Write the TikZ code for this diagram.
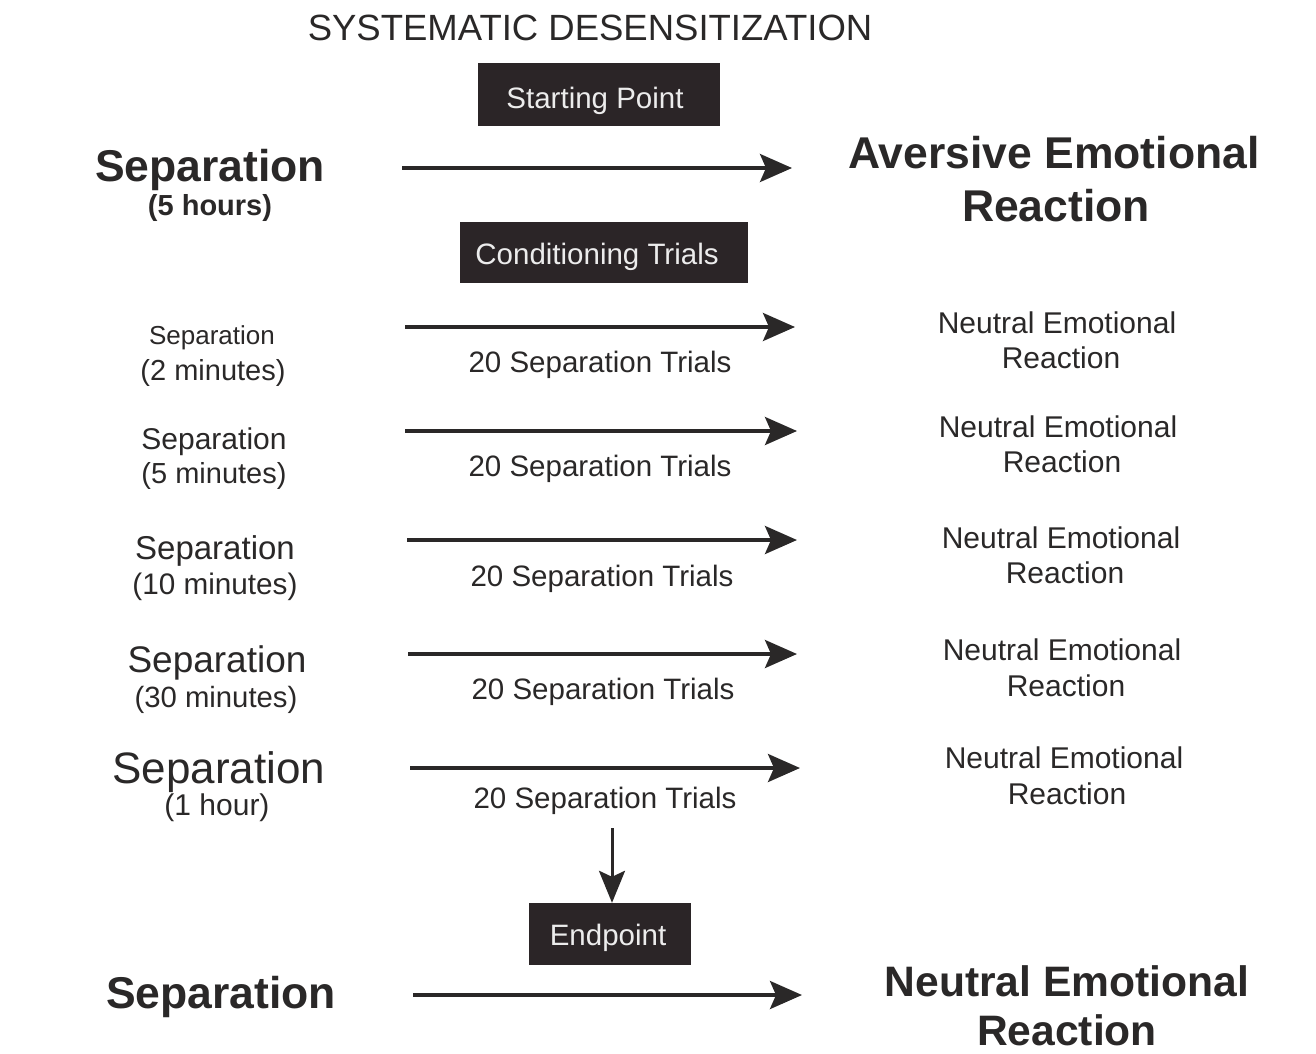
\documentclass[tikz,border=0pt]{standalone}
\usepackage{fontspec}
\setmainfont{Liberation Sans}
\usetikzlibrary{arrows.meta}
\definecolor{ink}{HTML}{2A2828}
\definecolor{boxc}{HTML}{2B2527}
\definecolor{boxtext}{HTML}{ECECEC}
\newcommand{\fs}[1]{\fontsize{#1}{#1}\selectfont}
\tikzset{
  lbl/.style={text=ink, inner sep=0pt, anchor=base},
  blk/.style={fill=boxc, inner sep=0pt, draw=none},
  flow/.style={draw=ink, line width=3.4pt, -{Stealth[length=32pt,width=28pt,inset=6pt]}},
  downflow/.style={draw=ink, line width=3pt, -{Stealth[length=32pt,width=26pt,inset=6pt]}},
}
\begin{document}
\begin{tikzpicture}[x=1pt,y=-1pt]
\useasboundingbox[fill=white] (0,0) rectangle (1316,1053);
% title
\node[lbl, font=\fs{36.5}] (title) at (590,40) {SYSTEMATIC DESENSITIZATION};
% boxes
\node[blk, minimum width=242pt, minimum height=63pt] (startbox) at (599,94.5) {};
\node[text=boxtext, inner sep=0pt, anchor=base, font=\fs{29.5}] (starttxt) at (595,108) {Starting Point};
\node[blk, minimum width=288pt, minimum height=61pt] (condbox) at (604,252.5) {};
\node[text=boxtext, inner sep=0pt, anchor=base, font=\fs{29.5}] (condtxt) at (597,264) {Conditioning Trials};
\node[blk, minimum width=162pt, minimum height=62pt] (endbox) at (610,934) {};
\node[text=boxtext, inner sep=0pt, anchor=base, font=\fs{29.5}] (endtxt) at (608,945) {Endpoint};
% row 1
\node[lbl, font=\bfseries\fs{44.5}] (s1) at (210,181) {Separation};
\node[lbl, font=\bfseries\fs{29}] (d1) at (210,215) {(5 hours)};
\node[lbl, font=\bfseries\fs{44.5}] (r1a) at (1054,168) {Aversive Emotional};
\node[lbl, font=\bfseries\fs{44.5}] (r1b) at (1056,221) {Reaction};
\coordinate (a1s) at (402,168); \coordinate (a1e) at (792,168);
% row 2
\node[lbl, font=\fs{26}] (s2) at (212,344) {Separation};
\node[lbl, font=\fs{29}] (d2) at (213,380) {(2 minutes)};
\node[lbl, font=\fs{29.5}] (t2) at (600,372) {20 Separation Trials};
\node[lbl, font=\fs{30}] (r2a) at (1057,333) {Neutral Emotional};
\node[lbl, font=\fs{30}] (r2b) at (1061,368) {Reaction};
\coordinate (a2s) at (405,327); \coordinate (a2e) at (795,327);
% row 3
\node[lbl, font=\fs{30}] (s3) at (214,449) {Separation};
\node[lbl, font=\fs{29}] (d3) at (214,483) {(5 minutes)};
\node[lbl, font=\fs{29.5}] (t3) at (600,476) {20 Separation Trials};
\node[lbl, font=\fs{30}] (r3a) at (1058,437) {Neutral Emotional};
\node[lbl, font=\fs{30}] (r3b) at (1062,472) {Reaction};
\coordinate (a3s) at (405,431); \coordinate (a3e) at (797,431);
% row 4
\node[lbl, font=\fs{33}] (s4) at (215,559) {Separation};
\node[lbl, font=\fs{29.7}] (d4) at (215,594) {(10 minutes)};
\node[lbl, font=\fs{29.5}] (t4) at (602,586) {20 Separation Trials};
\node[lbl, font=\fs{30}] (r4a) at (1061,548) {Neutral Emotional};
\node[lbl, font=\fs{30}] (r4b) at (1065,583) {Reaction};
\coordinate (a4s) at (407,540); \coordinate (a4e) at (797,540);
% row 5
\node[lbl, font=\fs{37}] (s5) at (217,672) {Separation};
\node[lbl, font=\fs{29.3}] (d5) at (216,707) {(30 minutes)};
\node[lbl, font=\fs{29.5}] (t5) at (603,699) {20 Separation Trials};
\node[lbl, font=\fs{30}] (r5a) at (1062,660) {Neutral Emotional};
\node[lbl, font=\fs{30}] (r5b) at (1066,696) {Reaction};
\coordinate (a5s) at (408,654); \coordinate (a5e) at (797,654);
% row 6
\node[lbl, font=\fs{44}] (s6) at (219,783) {Separation};
\node[lbl, font=\fs{30}] (d6) at (217,815) {(1 hour)};
\node[lbl, font=\fs{29.5}] (t6) at (605,808) {20 Separation Trials};
\node[lbl, font=\fs{30}] (r6a) at (1064,768) {Neutral Emotional};
\node[lbl, font=\fs{30}] (r6b) at (1067,804) {Reaction};
\coordinate (a6s) at (410,768); \coordinate (a6e) at (800,768);
% bottom
\node[lbl, font=\bfseries\fs{44.5}] (s7) at (221,1008) {Separation};
\node[lbl, font=\bfseries\fs{42.6}] (r7a) at (1067,996) {Neutral Emotional};
\node[lbl, font=\bfseries\fs{42.6}] (r7b) at (1067,1045) {Reaction};
\coordinate (a7s) at (413,995); \coordinate (a7e) at (802,995);
% down arrow
\coordinate (dn) at (612,828);
% arrows
\foreach \i in {1,...,7} {\draw[flow] (a\i s) -- (a\i e);}
\draw[downflow] (dn) -- (dn |- endbox.north);
\end{tikzpicture}
\end{document}
